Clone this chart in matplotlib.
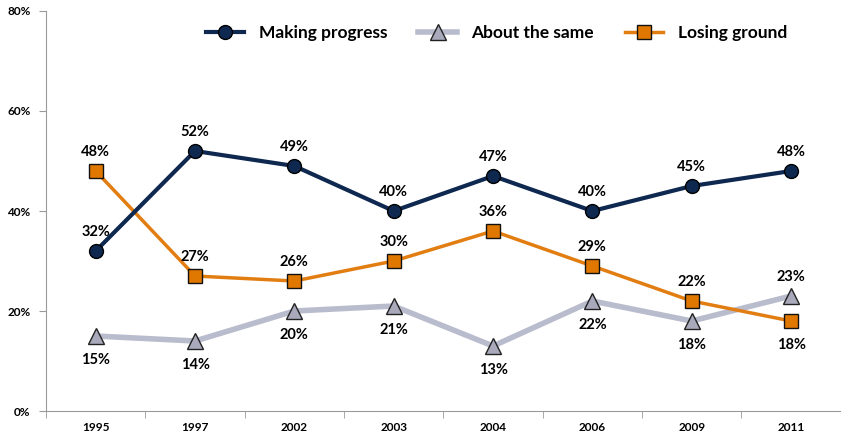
import matplotlib
matplotlib.use("Agg")
from matplotlib import pyplot as plt
import numpy as np

years = ["1995", "1997", "2002", "2003", "2004", "2006", "2009", "2011"]
making = [32, 52, 49, 40, 47, 40, 45, 48]
same = [15, 14, 20, 21, 13, 22, 18, 23]
losing = [48, 27, 26, 30, 36, 29, 22, 18]

# label placement: +1 above the point, -1 below
makingPos = [1, 1, 1, 1, 1, 1, 1, 1]
samePos = [-1, -1, -1, -1, -1, -1, -1, 1]
losingPos = [1, 1, 1, 1, 1, 1, 1, -1]

plt.rcParams['font.family'] = ['Lato', 'DejaVu Sans']
plt.rcParams['font.weight'] = 'bold'

fig = plt.figure(figsize=(8.41, 4.36), dpi=100)
ax = fig.add_axes([0.0547, 0.0573, 0.945, 0.9175])
x = np.arange(len(years))

ax.plot(x, making, color="#0e2850", lw=3, marker="o", ms=10,
        mfc="#0e2850", mec="#000000", mew=1, label="Making progress", zorder=3)
ax.plot(x, same, color="#b9bccd", lw=4, marker="^", ms=11,
        mfc="#a8aabb", mec="#222222", mew=1, label="About the same", zorder=2)
ax.plot(x, losing, color="#e27d12", lw=2.5, marker="s", ms=10,
        mfc="#e07800", mec="#111111", mew=1, label="Losing ground", zorder=2)

for series, pos in [(making, makingPos), (same, samePos), (losing, losingPos)]:
    for i, v in enumerate(series):
        off = 14 if pos[i] > 0 else -17
        ax.annotate(f"{v}%", (x[i], v), xytext=(0, off), textcoords="offset points",
                    ha="center", va="center", fontsize=10.5, fontweight="bold")

ax.set_xlim(-0.5, len(years) - 0.5)
ax.set_ylim(0, 80)
ax.set_yticks([0, 20, 40, 60, 80])
ax.set_yticklabels([f"{t}%" for t in [0, 20, 40, 60, 80]], fontsize=8.5, fontweight="bold")
ax.set_xticks(x)
ax.set_xticklabels(years, fontsize=8.5, fontweight="bold")
ax.set_xticks(np.arange(-0.5, len(years), 1), minor=True)
ax.tick_params(axis="x", which="major", length=0, pad=8)
ax.tick_params(axis="x", which="minor", length=5, color="#9a9a9a", direction="out")
ax.tick_params(axis="y", length=5, color="#9a9a9a", direction="out", pad=6)

for s in ["top", "right"]:
    ax.spines[s].set_visible(False)
for s in ["left", "bottom"]:
    ax.spines[s].set_color("#9a9a9a")

ax.legend(loc="upper center", bbox_to_anchor=(0.567, 1.005), ncol=3, frameon=False,
          prop={"size": 12.5, "weight": "bold"}, handlelength=2.2, handletextpad=0.85,
          columnspacing=1.8)

fig.savefig("out.png", dpi=100)
